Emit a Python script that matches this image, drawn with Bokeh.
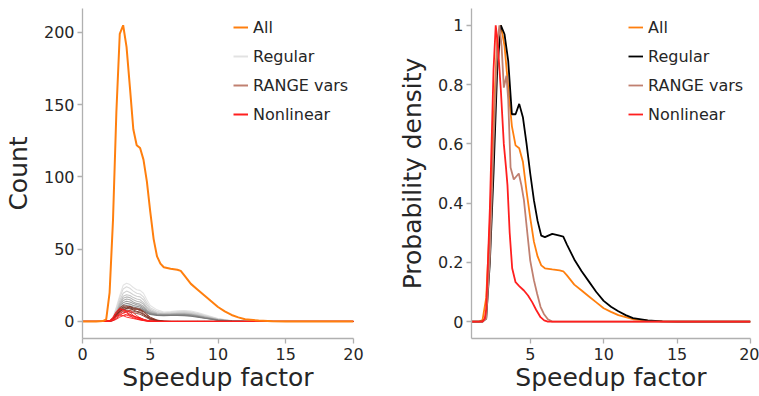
from bokeh.plotting import figure
from bokeh.layouts import row
from bokeh.models import Range1d, FixedTicker, Legend, LegendItem
from bokeh.embed import file_html
from bokeh.resources import INLINE

NAN = float("nan")

# ---------------- data ----------------
# Left panel: counts
all_x = [0, 1.0, 1.5, 1.75, 2.0, 2.25, 2.5, 2.75, 3.0, 3.25, 3.5, 3.75, 4.0, 4.25, 4.5, 4.75,
         5.0, 5.25, 5.5, 5.75, 6.0, 6.5, 7.0, 7.25, 7.5, 8.0, 8.5, 9.0, 9.5, 10.0, 10.5, 11.0,
         11.5, 12.0, 13.0, 14.0, 15.0, 20.0]
all_count = [0, 0, 0.3, 1.5, 20, 70, 145, 199, 205, 190, 162, 133, 122, 120, 112, 97,
             76, 57, 45, 40, 37.5, 36.5, 35.8, 35, 32, 26, 22, 18, 14, 10, 7, 4.5,
             2.8, 1.5, 0.6, 0.2, 0.05, 0]

grid_x = [0, 1.5, 2.0, 2.25, 2.5, 2.75, 3.0, 3.25, 3.5, 3.75, 4.0, 4.25, 4.5, 4.75, 5.0,
          5.5, 6.0, 6.5, 7.0, 7.5, 8.0, 8.5, 9.0, 10.0, 11.0, 12.0, 14.0, 20.0]

regular_counts = [
    [0, 0, 0.5, 3, 10, 18, 25, 26.5, 25.5, 23.5, 22, 21.5, 19.5, 15, 11, 8, 6.5, 6.8, 7.4, 7.6, 7.2, 6.2, 4.8, 2, 0.6, 0.2, 0, 0],
    [0, 0, 0.4, 2.5, 9, 16.5, 22.5, 24, 23, 21, 19.5, 19, 17, 13, 9.5, 7, 6, 6.3, 6.8, 7, 6.6, 5.6, 4.3, 1.8, 0.5, 0.1, 0, 0],
    [0, 0, 0.3, 2, 7.5, 14.5, 19.5, 21, 20, 18.5, 17.5, 17, 15, 11.5, 8.5, 6.2, 5.5, 5.8, 6.2, 6.4, 6, 5.1, 3.9, 1.6, 0.5, 0.1, 0, 0],
    [0, 0, 0.3, 1.8, 6.5, 13, 17.5, 18.5, 18, 16.5, 15.5, 15, 13, 10, 7.5, 5.8, 5.2, 5.4, 5.7, 5.8, 5.4, 4.6, 3.5, 1.4, 0.4, 0.1, 0, 0],
    [0, 0, 0.2, 1.5, 6, 12, 16, 17, 16.5, 15, 14, 13.5, 12, 9, 7, 5.5, 5, 5.2, 5.4, 5.5, 5.1, 4.3, 3.2, 1.3, 0.4, 0.1, 0, 0],
    [0, 0, 0.2, 1.3, 5.5, 11, 14.5, 15.5, 15, 13.5, 12.5, 12, 10.5, 8, 6.3, 5.2, 4.9, 5, 5.2, 5.2, 4.8, 4, 3, 1.2, 0.3, 0.1, 0, 0],
    [0, 0, 0.2, 1.2, 5, 10, 13, 14, 13.5, 12.5, 11.5, 11, 9.5, 7.5, 6, 5, 4.7, 4.8, 5, 5, 4.6, 3.8, 2.8, 1.1, 0.3, 0.1, 0, 0],
    [0, 0, 0.2, 1, 4.5, 9, 11.5, 12.5, 12, 11, 10.5, 10, 8.5, 7, 5.6, 4.8, 4.5, 4.6, 4.7, 4.7, 4.3, 3.6, 2.6, 1, 0.3, 0, 0, 0],
    [0, 0, 0.1, 0.9, 4, 8, 10.2, 11, 10.6, 10, 9.5, 9, 7.8, 6.4, 5.2, 4.5, 4.2, 4.3, 4.4, 4.4, 4, 3.3, 2.4, 0.9, 0.2, 0, 0, 0],
    [0, 0, 0.1, 0.8, 3.5, 7, 9, 9.5, 9.2, 8.8, 8.5, 8, 7, 5.8, 4.8, 4.2, 4, 4.1, 4.1, 4, 3.6, 3, 2.2, 0.8, 0.2, 0, 0, 0],
]
regular_colors = ["#e4e4e4", "#dadada", "#d0d0d0", "#c6c6c6", "#bababa",
                  "#adadad", "#a0a0a0", "#939393", "#878787", "#7b7b7b"]

range_counts = [
    [0, 0, 0.3, 2, 6, 9.5, 11, 10.5, 10, 9.5, 9, 8.5, 7, 5, 3, 1, 0.2, 0, 0, 0, 0, 0, 0, 0, 0, 0, 0, 0],
    [0, 0, 0.2, 1.5, 5, 8.5, 10, 9, 10.5, 9, 8.5, 8, 6.5, 4.5, 2.5, 0.8, 0.1, 0, 0, 0, 0, 0, 0, 0, 0, 0, 0, 0],
    [0, 0, 0.1, 1, 4, 7.5, 9.5, 10, 8.5, 8, 8.5, 7.5, 5.5, 3.5, 2, 0.6, 0.1, 0, 0, 0, 0, 0, 0, 0, 0, 0, 0, 0],
    [0, 0, 0.2, 1.5, 4.5, 7, 8, 9, 9.5, 8, 7, 6.5, 5, 3.5, 2, 0.5, 0.1, 0, 0, 0, 0, 0, 0, 0, 0, 0, 0, 0],
    [0, 0, 0.1, 1, 3.5, 6.5, 8.5, 8, 7.5, 7, 6.5, 6, 4.5, 3, 1.5, 0.4, 0, 0, 0, 0, 0, 0, 0, 0, 0, 0, 0, 0],
    [0, 0, 0.1, 0.8, 3, 5.5, 7, 7.5, 6.5, 6, 5.5, 5, 3.8, 2.5, 1.2, 0.3, 0, 0, 0, 0, 0, 0, 0, 0, 0, 0, 0, 0],
]
range_colors = ["#8c3a2a", "#7a2e1e", "#944434", "#72281a", "#86362a", "#7e3224"]

nonlinear_counts = [
    [0, 0, 0.5, 3, 7, 9, 8, 6, 4, 2.5, 1.8, 1.2, 0.7, 0.3, 0.1, 0, 0, 0, 0, 0, 0, 0, 0, 0, 0, 0, 0, 0],
    [0, 0, 0.3, 2, 5.5, 8, 8.5, 7, 6.5, 4, 2.5, 1.5, 0.8, 0.4, 0.1, 0, 0, 0, 0, 0, 0, 0, 0, 0, 0, 0, 0, 0],
    [0, 0, 0.2, 1, 3.5, 6, 7.5, 7, 7.5, 6, 4, 2.5, 1.5, 0.8, 0.3, 0, 0, 0, 0, 0, 0, 0, 0, 0, 0, 0, 0, 0],
    [0, 0, 0.1, 0.6, 2, 4, 6, 6.5, 5, 3.5, 3, 2.5, 1.5, 0.8, 0.3, 0, 0, 0, 0, 0, 0, 0, 0, 0, 0, 0, 0, 0],
    [0, 0, 0.2, 1, 3, 5, 5.5, 4.5, 3.5, 3, 2.5, 2, 1.2, 0.6, 0.2, 0, 0, 0, 0, 0, 0, 0, 0, 0, 0, 0, 0, 0],
    [0, 0, 0.1, 0.5, 1.5, 3, 4, 4.5, 4.5, 4, 3, 2, 1, 0.5, 0.2, 0, 0, 0, 0, 0, 0, 0, 0, 0, 0, 0, 0, 0],
    [0, 0, 0.3, 1.5, 3.5, 4.5, 4, 3, 2.5, 2, 1.5, 1, 0.6, 0.3, 0.1, 0, 0, 0, 0, 0, 0, 0, 0, 0, 0, 0, 0, 0],
]
nonlinear_colors = ["#ff1010", "#f01818", "#ff2a2a", "#e81010", "#ff3838", "#f42020", "#ff1c1c"]

# Right panel: normalised densities
dens_x = [1, 1.5, 1.75, 2.0, 2.25, 2.5, 2.75, 3.0, 3.25, 3.5, 3.75, 4.0, 4.25, 4.5, 4.75, 5.0,
          5.25, 5.5, 5.75, 6.0, 6.5, 7.0, 7.25, 7.5, 8.0, 8.5, 9.0, 9.5, 10.0, 10.5, 11.0, 11.5,
          12.0, 13.0, 14.0, 15.0, 20.0]
all_density = [0, 0, 0.005, 0.08, 0.33, 0.68, 0.95, 1.0, 0.93, 0.79, 0.66, 0.595, 0.585, 0.54, 0.44, 0.35,
               0.27, 0.22, 0.19, 0.18, 0.176, 0.173, 0.17, 0.156, 0.125, 0.105, 0.085, 0.065, 0.045, 0.033, 0.022, 0.015,
               0.008, 0.003, 0.001, 0, 0]
regular_density = [0, 0, 0, 0.01, 0.2, 0.5, 0.85, 1.0, 0.97, 0.88, 0.7, 0.7, 0.735, 0.69, 0.6, 0.5,
                   0.41, 0.34, 0.29, 0.285, 0.296, 0.29, 0.287, 0.26, 0.21, 0.17, 0.135, 0.1, 0.07, 0.05, 0.035, 0.022,
                   0.012, 0.004, 0.001, 0, 0]
range_x = [1, 1.75, 2.0, 2.25, 2.5, 2.75, 2.9, 3.05, 3.2, 3.38, 3.5, 3.66, 3.88, 4.05, 4.22, 4.4,
           4.57, 4.8, 5.0, 5.25, 5.47, 5.7, 5.93, 6.2, 6.5, 20]
range_density = [0, 0, 0.01, 0.22, 0.6, 0.93, 1.0, 0.93, 0.79, 0.83, 0.75, 0.52, 0.48, 0.49, 0.5, 0.46,
                 0.41, 0.3, 0.206, 0.14, 0.094, 0.05, 0.026, 0.008, 0.0, 0]
nonlinear_x = [1, 1.75, 1.9, 2.0, 2.25, 2.5, 2.65, 2.8, 3.0, 3.2, 3.35, 3.45, 3.6, 3.77, 4.0, 4.25,
               4.57, 4.85, 5.14, 5.4, 5.7, 5.95, 6.2, 20]
nonlinear_density = [0, 0, 0.01, 0.04, 0.38, 0.85, 1.0, 0.93, 0.78, 0.6, 0.52, 0.46, 0.3, 0.18, 0.133, 0.12,
                     0.105, 0.088, 0.065, 0.04, 0.015, 0.004, 0.0, 0]

left_xticks = [0, 5, 10, 15, 20]
left_yticks = [0, 50, 100, 150, 200]
right_xticks = [5, 10, 15, 20]
right_yticks = [0, 0.2, 0.4, 0.6, 0.8, 1]
right_ylabels = {0: "0", 0.2: "0.2", 0.4: "0.4", 0.6: "0.6", 0.8: "0.8", 1: "1"}

ORANGE = "#ff7f0e"
RANGE_LEG = "#c08070"
RED = "#ff1f1f"
FONT = "DejaVu Sans"
TXT = "#262626"
SPINE = "#b0b0b0"


def style(p):
    p.outline_line_color = None
    p.xgrid.grid_line_color = None
    p.ygrid.grid_line_color = None
    p.background_fill_color = "white"
    p.border_fill_color = "white"
    for ax in [p.xaxis[0], p.yaxis[0]]:
        ax.axis_line_color = SPINE
        ax.axis_line_width = 1.3
        ax.major_tick_line_color = SPINE
        ax.major_tick_line_width = 1.3
        ax.major_tick_out = 5
        ax.major_tick_in = 0
        ax.minor_tick_line_color = None
        ax.major_label_text_font = FONT
        ax.major_label_text_font_size = "16px"
        ax.major_label_text_color = TXT
        ax.axis_label_text_font = FONT
        ax.axis_label_text_font_size = "25px"
        ax.axis_label_text_font_style = "normal"
        ax.axis_label_text_color = TXT
    p.xaxis[0].major_label_standoff = 4
    p.xaxis[0].axis_label_standoff = 0
    p.yaxis[0].major_label_standoff = 3


def make_legend(items, x, y):
    leg = Legend(items=items, location=(x, y), border_line_color=None,
                 background_fill_alpha=0, padding=0, margin=0, spacing=9,
                 glyph_width=15, glyph_height=20, label_height=20, label_standoff=5,
                 label_text_font=FONT, label_text_font_size="16px", label_text_color=TXT)
    return leg


# ---------------- left panel ----------------
p1 = figure(width=380, height=396, output_backend="svg", toolbar_location=None,
            x_range=Range1d(0, 20), y_range=Range1d(-11.8, 216.6),
            min_border_left=80, min_border_right=27, min_border_top=8, min_border_bottom=58)
style(p1)
p1.xaxis[0].ticker = FixedTicker(ticks=left_xticks)
p1.yaxis[0].ticker = FixedTicker(ticks=left_yticks)
p1.xaxis[0].axis_label = "Speedup factor"
p1.yaxis[0].axis_label = "Count"
p1.yaxis[0].axis_label_standoff = 8

for ys, c in zip(regular_counts, regular_colors):
    p1.line(grid_x, ys, line_color=c, line_width=1.1)
for ys, c in zip(range_counts, range_colors):
    p1.line(grid_x, ys, line_color=c, line_width=1.0, line_alpha=0.85)
for ys, c in zip(nonlinear_counts, nonlinear_colors):
    p1.line(grid_x, ys, line_color=c, line_width=1.0, line_alpha=0.9)
r_all1 = p1.line(all_x, all_count, line_color=ORANGE, line_width=2)

# legend-only swatches (no visible data)
d_reg1 = p1.line([NAN], [NAN], line_color="#e2e2e2", line_width=2)
d_rng1 = p1.line([NAN], [NAN], line_color=RANGE_LEG, line_width=2)
d_nl1 = p1.line([NAN], [NAN], line_color=RED, line_width=2)
p1.add_layout(make_legend([
    LegendItem(label="All", renderers=[r_all1]),
    LegendItem(label="Regular", renderers=[d_reg1]),
    LegendItem(label="RANGE vars", renderers=[d_rng1]),
    LegendItem(label="Nonlinear", renderers=[d_nl1]),
], 151, 214), "center")

# ---------------- right panel ----------------
p2 = figure(width=379, height=396, output_backend="svg", toolbar_location=None,
            x_range=Range1d(1, 20), y_range=Range1d(-0.057, 1.057),
            min_border_left=91, min_border_right=9, min_border_top=8, min_border_bottom=58)
style(p2)
p2.xaxis[0].ticker = FixedTicker(ticks=right_xticks)
p2.yaxis[0].ticker = FixedTicker(ticks=right_yticks)
p2.yaxis[0].major_label_overrides = right_ylabels
p2.xaxis[0].axis_label = "Speedup factor"
p2.yaxis[0].axis_label = "Probability density"
p2.yaxis[0].axis_label_standoff = 8

r_all2 = p2.line(dens_x, all_density, line_color=ORANGE, line_width=1.8)
r_reg2 = p2.line(dens_x, regular_density, line_color="black", line_width=1.8)
r_rng2 = p2.line(range_x, range_density, line_color=RANGE_LEG, line_width=1.8)
r_nl2 = p2.line(nonlinear_x, nonlinear_density, line_color=RED, line_width=1.8)
p2.add_layout(make_legend([
    LegendItem(label="All", renderers=[r_all2]),
    LegendItem(label="Regular", renderers=[r_reg2]),
    LegendItem(label="RANGE vars", renderers=[r_rng2]),
    LegendItem(label="Nonlinear", renderers=[r_nl2]),
], 157, 214), "center")

layout = row(p1, p2, spacing=0)
open("out.html", "w").write(file_html(layout, INLINE))
